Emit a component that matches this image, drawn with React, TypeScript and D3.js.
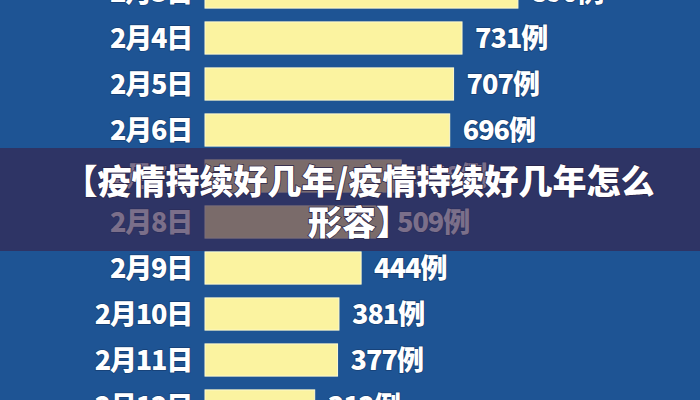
import React from "react";
import * as d3 from "d3";

const dates = ["2月3日", "2月4日", "2月5日", "2月6日", "2月7日", "2月8日", "2月9日", "2月10日", "2月11日", "2月12日"];
const cases = [890, 731, 707, 696, 558, 509, 444, 381, 377, 312];
const unit = "例";
const titleLines = ["【疫情持续好几年/疫情持续好几年怎么", "形容】"];

const W = 700;
const H = 400;
const FONT = "'Noto Sans CJK SC', 'Noto Sans', sans-serif";

export default function App() {
  const x = d3.scaleLinear().domain([0, 1000]).range([205, 205 + 351.6]);
  const y = d3.scaleBand<string>().domain(dates).range([-31, 429]).paddingInner(0.3).paddingOuter(0.15);

  return (
    <svg
      width={W}
      height={H}
      viewBox={`0 0 ${W} ${H}`}
      style={{ position: "absolute", left: 0, top: 0, display: "block" }}
    >
      <rect x={0} y={0} width={W} height={H} fill="#1e5494" />
      {dates.map((d, i) => {
        const yy = y(d) as number;
        const bw = y.bandwidth();
        const cy = yy + bw / 2;
        return (
          <g key={d}>
            <rect x={x(0)} y={yy} width={x(cases[i]) - x(0)} height={bw} fill="#fbf3a0" stroke="#fffbd0" strokeWidth={1} />
            <text
              x={192}
              y={cy}
              dy="0.36em"
              textAnchor="end"
              fill="#ffffff"
              fontFamily={FONT}
              fontWeight={900}
              fontSize={27}
              letterSpacing={-1.2}
              stroke="#163f73"
              strokeWidth={1.5}
              paintOrder="stroke"
            >
              {d}
            </text>
            <text
              x={x(cases[i]) + 13}
              y={cy}
              dy="0.36em"
              textAnchor="start"
              fill="#ffffff"
              fontFamily={FONT}
              fontWeight={900}
              fontSize={27}
              letterSpacing={-1}
              stroke="#163f73"
              strokeWidth={1.5}
              paintOrder="stroke"
            >
              {cases[i]}
              {unit}
            </text>
          </g>
        );
      })}
      <rect x={0} y={148} width={W} height={103} fill="#36244d" fillOpacity={0.66} />
      {titleLines.map((t, i) => (
        <text
          key={i}
          x={359}
          y={194 + i * 41}
          textAnchor="middle"
          fill="#ffffff"
          fontFamily={FONT}
          fontWeight={900}
          fontSize={34}
          stroke="#2a2448"
          strokeWidth={1.5}
          paintOrder="stroke"
        >
          {t}
        </text>
      ))}
    </svg>
  );
}
